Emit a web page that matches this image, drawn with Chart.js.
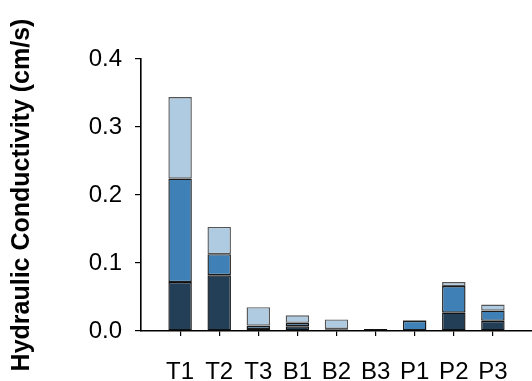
<!DOCTYPE html>
<html>
<head>
<meta charset="utf-8">
<script src="https://cdn.jsdelivr.net/npm/chart.js@4.4.1/dist/chart.umd.min.js"></script>
<style>
  html, body { margin: 0; padding: 0; background: #fff; }
  canvas { display: block; }
</style>
</head>
<body>
<canvas id="chart" width="532" height="381"></canvas>
<script>
// site labels along the x axis
const sites = ["T1", "T2", "T3", "B1", "B2", "B3", "P1", "P2", "P3"];

// stacked segments, bottom to top (cm/s)
const lowerK  = [0.072, 0.082, 0.003, 0.007, 0.002, 0.003, 0.001, 0.027, 0.015];
const middleK = [0.152, 0.031, 0.005, 0.005, 0.001, 0.000, 0.014, 0.039, 0.015];
const upperK  = [0.120, 0.040, 0.027, 0.011, 0.014, 0.000, 0.001, 0.006, 0.009];

const yTicks = [0.0, 0.1, 0.2, 0.3, 0.4];

const toPoints = (vals) => vals.map((v, i) => ({ x: i, y: v }));

const segment = (label, vals, fill, edge) => ({
    label: label,
    data: toPoints(vals),
    backgroundColor: fill,
    borderColor: edge,
    borderWidth: 1.4,
    borderSkipped: false,
    categoryPercentage: 1.0,
    barPercentage: 0.6
});

const tickFont = { family: "'Liberation Sans', Arial, sans-serif", size: 24 };

new Chart(document.getElementById("chart").getContext("2d"), {
    type: "bar",
    data: {
        datasets: [
            segment("Lower", lowerK, "#233f58", "#111"),
            segment("Middle", middleK, "#3f80b6", "#1b1b1b"),
            segment("Upper", upperK, "#afcbe2", "#555")
        ]
    },
    options: {
        responsive: false,
        animation: false,
        layout: { padding: { top: 59, right: 0, bottom: 0, left: 0 } },
        plugins: {
            legend: { display: false },
            tooltip: { enabled: false }
        },
        scales: {
            x: {
                type: "linear",
                stacked: true,
                offset: false,
                min: -1,
                max: 9,
                afterFit: (s) => { s.height = 50; },
                afterBuildTicks: (s) => {
                    s.ticks = sites.map((_, i) => ({ value: i }));
                },
                ticks: {
                    autoSkip: false,
                    maxRotation: 0,
                    padding: 22,
                    color: "#000",
                    font: tickFont,
                    callback: (v) => sites[v] ?? ""
                },
                grid: {
                    display: true,
                    offset: false,
                    drawOnChartArea: false,
                    drawTicks: true,
                    tickLength: 5,
                    color: "#000",
                    lineWidth: 1.2
                },
                border: { display: true, color: "#000", width: 1.6 }
            },
            y: {
                stacked: true,
                min: 0,
                max: 0.4,
                afterFit: (s) => { s.width = 141; },
                afterBuildTicks: (s) => {
                    s.ticks = yTicks.map((v) => ({ value: v }));
                },
                ticks: {
                    padding: 13,
                    color: "#000",
                    font: tickFont,
                    callback: (v) => Number(v).toFixed(1)
                },
                grid: {
                    display: true,
                    drawOnChartArea: false,
                    drawTicks: true,
                    tickLength: 6,
                    color: "#000",
                    lineWidth: 1.2
                },
                border: { display: true, color: "#000", width: 1.6 },
                title: {
                    display: true,
                    text: "Hydraulic Conductivity (cm/s)",
                    color: "#000",
                    padding: { top: 7, bottom: 0 },
                    font: { family: "'Liberation Sans', Arial, sans-serif", size: 25, weight: "bold" }
                }
            }
        }
    }
});
</script>
</body>
</html>
